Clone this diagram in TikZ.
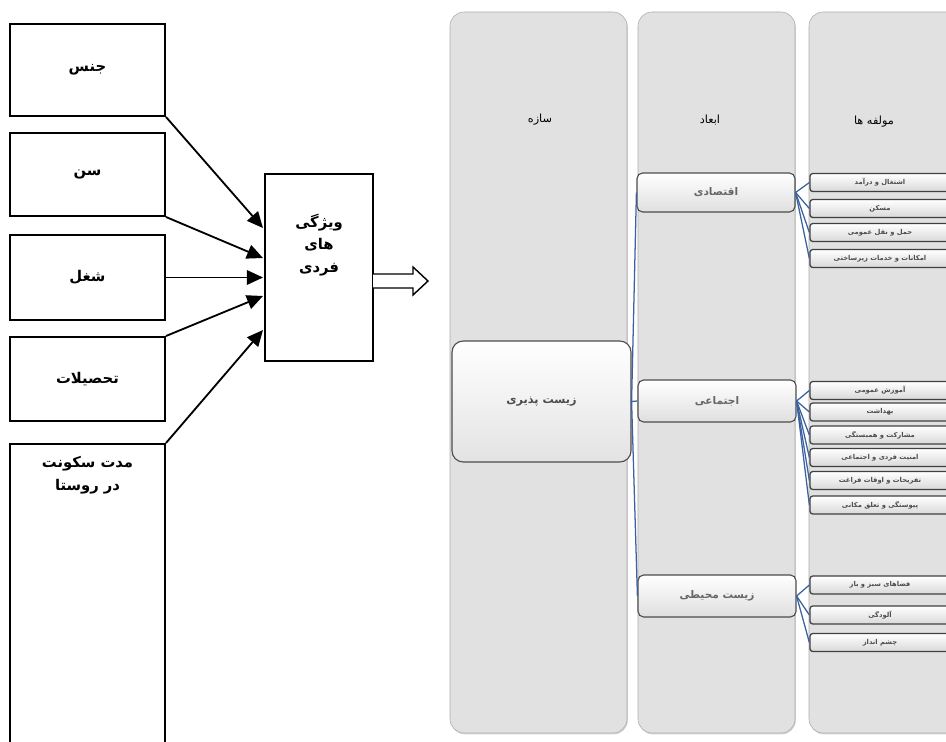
\documentclass[tikz,border=0pt]{standalone}
\usepackage{fontspec}
\setmainfont{DejaVu Sans}
\newfontfamily\fa[Script=Arabic]{DejaVu Sans}
\TeXXeTstate=1
\usetikzlibrary{arrows.meta,shadows}
\definecolor{treeblue}{RGB}{58,98,160}
\definecolor{colfill}{RGB}{225,225,225}
\tikzset{
  inbox/.style={draw=black,line width=1.4pt,fill=white,minimum width=3.875cm,align=center,
    font=\fa\bfseries\fontsize{10.5}{16}\selectfont},        % left input box
  feed/.style={-{Triangle[length=4mm,width=3.6mm]},line width=1.3pt},
  column/.style={draw=gray!65,fill=colfill,rounded corners=10pt,
    drop shadow={shadow xshift=0.6pt,shadow yshift=-1pt,opacity=0.35}},
  coreb/.style={draw=black!70,thick,rounded corners=8pt,top color=white,bottom color=gray!22,
    minimum width=4.475cm,minimum height=3.025cm,font=\fa\bfseries\fontsize{8}{10}\selectfont,text=black!70},
  dimb/.style={draw=black!70,thick,rounded corners=4pt,top color=white,bottom color=gray!25,
    minimum width=3.95cm,minimum height=1.05cm,font=\fa\bfseries\fontsize{7.5}{9}\selectfont,text=black!60},
  comp/.style={draw=black!75,line width=0.9pt,rounded corners=2pt,top color=white,bottom color=gray!30,
    minimum width=3.5cm,minimum height=0.45cm,inner sep=0pt,font=\fa\bfseries\fontsize{4.8}{5}\selectfont,text=black!70},
  head/.style={font=\fa\fontsize{8}{10}\selectfont},
  tree/.style={treeblue,line width=0.9pt},
}

\begin{document}
\begin{tikzpicture}[x=0.025cm,y=-0.025cm]
  \useasboundingbox (0,0) rectangle (946,742);
  \clip (0,0) rectangle (946,742);

  % input boxes
  \node[inbox,minimum height=2.3cm]   (jens)   at (87.5,70)    {\beginR جنس\endR};
  \node[inbox,minimum height=2.075cm] (sen)    at (87.5,174.5) {\beginR سن\endR};
  \node[inbox,minimum height=2.125cm] (shoghl) at (87.5,277.5) {\beginR شغل\endR};
  \node[inbox,minimum height=2.1cm]   (tahsil) at (87.5,379)   {\beginR تحصیلات\endR};
  \node[inbox,minimum height=9cm,anchor=north] (sokonat) at (87.5,443) {};
  \node[font=\fa\bfseries\fontsize{10.5}{16}\selectfont,align=center] (sokonattxt) at (87.5,475)
    {\beginR مدت سکونت\endR\\\beginR در روستا\endR};

  % individual traits
  \node[draw=black,line width=1.4pt,fill=white,minimum width=2.7cm,minimum height=4.675cm] (fardi) at (319,267.5) {};
  \node[font=\fa\bfseries\fontsize{10.5}{16}\selectfont,align=center] (farditxt) at (319,245)
    {\beginR ویژگی\endR\\\beginR های\endR\\\beginR فردی\endR};
  \coordinate (in1) at (263,228);
  \coordinate (in2) at (263,258);
  \coordinate (in3) at (263,277.5);
  \coordinate (in4) at (263,296);
  \coordinate (in5) at (263,330);
  \draw[feed] (jens.south east) -- (in1);
  \draw[feed] (sen.south east) -- (in2);
  \draw[feed] (shoghl.east) -- (in3);
  \draw[feed] (tahsil.north east) -- (in4);
  \draw[feed] (sokonat.north east) -- (in5);

  % hollow arrow
  \draw[line width=1pt,fill=white] (373,274) -- (413,274) -- (413,267) -- (428,281)
    -- (413,295) -- (413,288) -- (373,288);

  % columns
  \draw[column] (450,12) rectangle (627,733);
  \draw[column] (638,12) rectangle (795,733);
  \draw[column] (809,12) rectangle (980,733);
  \node[head] (saze)   at (540,120) {\beginR سازه\endR};
  \node[head] (abaad)  at (710,120) {\beginR ابعاد\endR};
  \node[head] (moalef) at (874,122) {\beginR مولفه ها\endR};

  % construct and dimensions
  \node[coreb] (zist) at (541.5,401.5) {\beginR زیست پذیری\endR};
  \node[dimb,minimum height=0.975cm] (eco) at (716,192.5) {\beginR اقتصادی\endR};
  \node[dimb] (soc) at (717,401) {\beginR اجتماعی\endR};
  \node[dimb] (env) at (717,596) {\beginR زیست محیطی\endR};
  \foreach \d in {eco,soc,env} \draw[tree] (zist.east) -- (\d.west);

  % components
  \foreach \y/\t [count=\i] in {182.5/اشتغال و درآمد,208.5/مسکن,232.5/حمل و نقل عمومی,258.5/امکانات و خدمات زیرساختی}
    {\node[comp] (e\i) at (880,\y) {\beginR\t\endR}; \draw[tree] (eco.east) -- (e\i.west);}
  \foreach \y/\t [count=\i] in {390.5/آموزش عمومی,412/بهداشت,435/مشارکت و همبستگی,457.5/امنیت فردی و اجتماعی,480.5/تفریحات و اوقات فراغت,505/پیوستگی و تعلق مکانی}
    {\node[comp] (s\i) at (880,\y) {\beginR\t\endR}; \draw[tree] (soc.east) -- (s\i.west);}
  \foreach \y/\t [count=\i] in {585/فضاهای سبز و باز,615/آلودگی,642.5/چشم انداز}
    {\node[comp] (m\i) at (880,\y) {\beginR\t\endR}; \draw[tree] (env.east) -- (m\i.west);}
\end{tikzpicture}
\end{document}
